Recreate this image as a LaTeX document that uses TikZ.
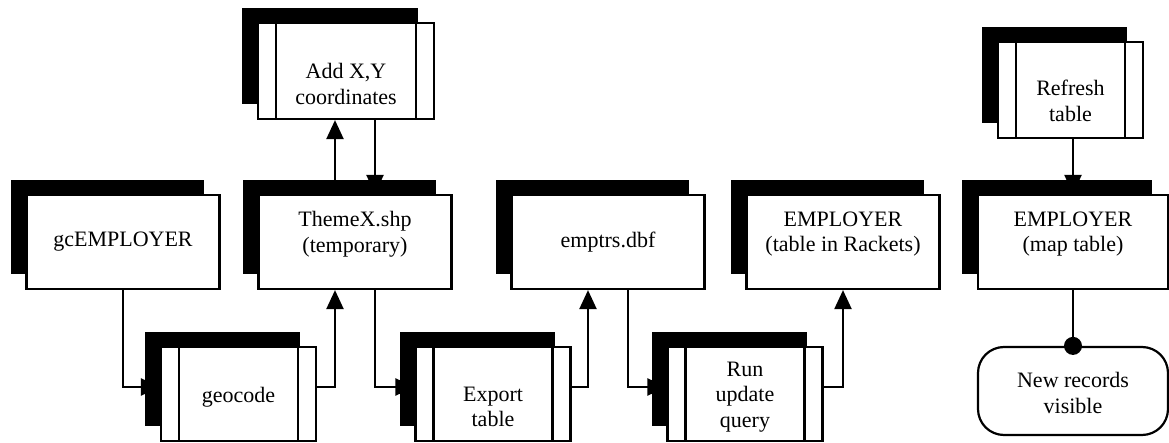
\documentclass[tikz,border=0pt]{standalone}
\usepackage{fontspec}
\setmainfont{Liberation Serif}
\usetikzlibrary{arrows.meta,shadows}

\tikzset{
  datbox/.style={draw, line width=1.1pt, fill=white, inner sep=0pt,
    minimum width=96.5pt, minimum height=47pt,
    general shadow={fill=black, shadow xshift=-8pt, shadow yshift=7.5pt}},
  procbox/.style={datbox, minimum width=77.5pt,
    path picture={\draw[line width=1.1pt]
      ([xshift=9pt]path picture bounding box.north west) -- ([xshift=9pt]path picture bounding box.south west)
      ([xshift=-9pt]path picture bounding box.north east) -- ([xshift=-9pt]path picture bounding box.south east);}},
  endbox/.style={draw, line width=1.1pt, rounded corners=13pt, minimum width=95pt, minimum height=44pt},
  txt/.style={align=center, font=\fontsize{11pt}{12.8pt}\selectfont},
  flow/.style={line width=1.1pt, -{Triangle[length=9.5pt,width=8.5pt]}}
}

\begin{document}
\begin{tikzpicture}[x=0.5pt,y=-0.5pt]
  \useasboundingbox (0,0) rectangle (1169,443);
  % data
  \node[datbox] (gc) at (123,242) {};
  \node[datbox] (theme) at (355,242) {};
  \node[datbox] (emp) at (608,242) {};
  \node[datbox] (empr) at (843,242) {};
  \node[datbox, minimum width=95pt] (map) at (1073,242) {};
  % steps
  \node[procbox, minimum width=88pt, minimum height=48pt] (add) at (346,71) {};
  \node[procbox, minimum width=72.5pt, minimum height=48pt] (refresh) at (1070.5,90) {};
  \node[procbox] (geo) at (238.5,394) {};
  \node[procbox] (exp) at (493,394) {};
  \node[procbox] (run) at (745,394) {};
  \node[endbox] (term) at (1073,391) {};
  % labels
  \node[txt] (gclab) at (gc) {gcEMPLOYER};
  \node[txt, yshift=4pt] (themelab) at (theme) {ThemeX.shp\\(temporary)};
  \node[txt] (emplab) at (emp) {emptrs.dbf};
  \node[txt, yshift=4pt] (emprlab) at (empr) {EMPLOYER\\(table in Rackets)};
  \node[txt, yshift=4pt] (maplab) at (map) {EMPLOYER\\(map table)};
  \node[txt, yshift=-6.5pt] (addlab) at (add) {Add X,Y\\coordinates};
  \node[txt, yshift=-5.5pt] (refreshlab) at (refresh) {Refresh\\table};
  \node[txt, yshift=-1.5pt] (geolab) at (geo) {geocode};
  \node[txt, yshift=-6.5pt] (explab) at (exp) {Export\\table};
  \node[txt, yshift=-1.5pt] (runlab) at (run) {Run\\update\\query};
  \node[txt, yshift=-1pt] (termlab) at (term) {New records\\visible};
  % connectors
  \coordinate (tup) at ([xshift=-10pt]theme.north);
  \coordinate (tdown) at ([xshift=10pt]theme.north);
  \draw[flow] (gc.south) |- ([yshift=3.5pt]geo.west);
  \draw[flow] ([yshift=3.5pt]geo.east) -| ([xshift=-10pt]theme.south);
  \draw[flow] ([xshift=10pt]theme.south) |- ([yshift=3.5pt]exp.west);
  \draw[flow] ([yshift=3.5pt]exp.east) -| ([xshift=-10pt]emp.south);
  \draw[flow] ([xshift=10pt]emp.south) |- ([yshift=3.5pt]run.west);
  \draw[flow] ([yshift=3.5pt]run.east) -| (empr.south);
  \draw[flow] (tup) -- (tup |- add.south);
  \draw[flow] (tdown |- add.south) -- (tdown);
  \draw[flow] (map.north |- refresh.south) -- (map.north);
  \draw[line width=1.1pt, -{Circle[length=9pt]}, shorten >=-4.5pt] (map.south) -- (term.north);
\end{tikzpicture}
\end{document}
